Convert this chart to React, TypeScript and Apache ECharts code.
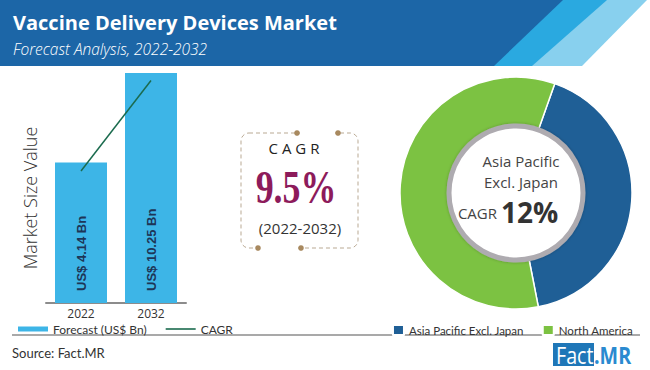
import React, { useEffect, useRef } from "react";
import * as echarts from "echarts";

// ---------- data ----------
const title = "Vaccine Delivery Devices Market";
const subtitle = "Forecast Analysis, 2022-2032";
const years = ["2022", "2032"];
const marketSize = [4.14, 10.25]; // US$ Bn
const cagrTrend = [3.8, 9.5];
const barSeriesName = "Forecast (US$ Bn)";
const lineSeriesName = "CAGR";
const yAxisName = "Market Size Value";
const cagrHeading = "C A G R";
const cagrValue = "9.5%";
const cagrPeriod = "(2022-2032)";
const regions = ["Asia Pacific Excl. Japan", "North America"];
const regionShare = [41.5, 58.5];
const centerLines = ["Asia Pacific", "Excl. Japan"];
const centerCagrLabel = "CAGR";
const centerCagrValue = "12%";
const sourceText = "Source: Fact.MR";

// ---------- styles ----------
const regionColors = ["#1f5f96", "#7cc242"];
const barColor = "#3db5e7";
const lineColor = "#1b6b4e";
const FONT = "Lato";

export default function App() {
  const ref = useRef<HTMLDivElement>(null);

  useEffect(() => {
    if (!ref.current) return;
    const chart = echarts.init(ref.current, undefined, { renderer: "svg" });
    const cx = 516;
    const cy = 193;

    const option: any = {
      animation: false,
      backgroundColor: "#ffffff",
      textStyle: { fontFamily: FONT },
      grid: { left: 46, top: 73, width: 140, bottom: 67 },
      xAxis: {
        type: "category",
        data: years,
        axisLine: { lineStyle: { color: "#8c8c8c", width: 2 } },
        axisTick: { show: false },
        axisLabel: { color: "#333", fontSize: 12, margin: 4, fontFamily: "Open Sans" },
      },
      yAxis: {
        type: "log",
        logBase: 10,
        min: 1,
        max: 10.25,
        axisLine: { show: false },
        axisTick: { show: false },
        axisLabel: { show: false },
        splitLine: { show: false },
      },
      legend: [
        {
          left: 13,
          top: 318,
          itemWidth: 30,
          itemHeight: 5,
          itemGap: 19,
          data: [
            { name: barSeriesName, icon: "rect" },
            { name: lineSeriesName, icon: "path://M0,0H30V1.6H0Z" },
          ],
          textStyle: { fontSize: 12, color: "#333", fontFamily: FONT },
        },
        {
          right: 12,
          top: 319,
          itemWidth: 11,
          itemHeight: 10,
          itemGap: 18,
          icon: "rect",
          data: regions,
          textStyle: { fontSize: 11.5, color: "#333", fontFamily: FONT },
        },
      ],
      series: [
        {
          type: "bar",
          name: barSeriesName,
          data: marketSize,
          barWidth: 52,
          itemStyle: { color: barColor },
          label: {
            show: true,
            position: "insideBottom",
            rotate: 90,
            align: "left",
            verticalAlign: "middle",
            distance: 12,
            formatter: (p: any) => `US$ ${p.value} Bn`,
            fontWeight: "bold",
            fontSize: 13,
            color: "#1d3557",
            fontFamily: "Liberation Sans",
          },
        },
        {
          type: "line",
          name: lineSeriesName,
          data: cagrTrend,
          symbol: "none",
          lineStyle: { color: lineColor, width: 1.5 },
          itemStyle: { color: lineColor },
        },
        {
          type: "pie",
          name: "Regions",
          center: [cx, cy],
          radius: [68, 116],
          startAngle: 70.5,
          clockwise: true,
          label: { show: false },
          labelLine: { show: false },
          emphasis: { disabled: true },
          itemStyle: { borderColor: "#ffffff", borderWidth: 1.5 },
          data: regions.map((r, i) => ({
            name: r,
            value: regionShare[i],
            itemStyle: { color: regionColors[i] },
          })),
        },
      ],
      graphic: [
        // header stripes
        { type: "polygon", z: 0, shape: { points: [[0, 0], [647, 0], [582, 66], [0, 66]] }, style: { fill: "#88d0ee" } },
        { type: "polygon", z: 0, shape: { points: [[0, 0], [607, 0], [532, 66], [0, 66]] }, style: { fill: "#2aa9e0" } },
        { type: "polygon", z: 0, shape: { points: [[0, 0], [563, 0], [494, 66], [0, 66]] }, style: { fill: "#1c66a7" } },
        {
          type: "text", z: 1, x: 13, y: 22,
          style: { text: title, fill: "#ffffff", font: `bold 20px 'Open Sans'`, verticalAlign: "middle" },
        },
        {
          type: "text", z: 1, x: 13, y: 49,
          style: { text: subtitle, fill: "#ffffff", font: `italic 300 15.5px 'Open Sans'`, verticalAlign: "middle" },
        },
        // y axis title
        {
          type: "text", z: 1, x: 30, y: 198, rotation: Math.PI / 2,
          style: { text: yAxisName, fill: "#333", font: `300 18px 'Open Sans'`, align: "center", verticalAlign: "middle" },
        },
        // CAGR box
        {
          type: "rect", z: 1,
          shape: { x: 241, y: 133, width: 117, height: 115, r: 8 },
          style: { fill: "#ffffff", stroke: "#b9a993", lineWidth: 1, lineDash: [4, 3] },
        },
        { type: "rect", z: 2, shape: { x: 300, y: 131, width: 35, height: 4 }, style: { fill: "#ffffff" } },
        { type: "rect", z: 2, shape: { x: 261, y: 246, width: 37, height: 4 }, style: { fill: "#ffffff" } },
        { type: "circle", z: 3, shape: { cx: 297, cy: 133, r: 2.8 }, style: { fill: "#a8895f" } },
        { type: "circle", z: 3, shape: { cx: 338, cy: 133, r: 2.8 }, style: { fill: "#a8895f" } },
        { type: "circle", z: 3, shape: { cx: 258, cy: 248, r: 2.8 }, style: { fill: "#a8895f" } },
        { type: "circle", z: 3, shape: { cx: 301, cy: 248, r: 2.8 }, style: { fill: "#a8895f" } },
        {
          type: "text", z: 3, x: 294, y: 148,
          style: { text: cagrHeading, fill: "#222", font: `15px 'Open Sans'`, align: "center", verticalAlign: "middle" },
        },
        {
          type: "text", z: 3, x: 296, y: 187, scaleX: 0.78,
          style: { text: cagrValue, fill: "#8d1b5b", font: `bold 46px 'Liberation Serif'`, align: "center", verticalAlign: "middle" },
        },
        {
          type: "text", z: 3, x: 300, y: 228,
          style: { text: cagrPeriod, fill: "#333", font: `15px 'Open Sans'`, align: "center", verticalAlign: "middle" },
        },
        // donut centre
        {
          type: "circle", z: 10,
          shape: { cx: cx, cy: cy, r: 67 },
          style: { fill: "#ffffff", stroke: "#aeabb0", lineWidth: 5, shadowBlur: 3, shadowColor: "rgba(0,0,0,0.25)" },
        },
        {
          type: "text", z: 11, x: cx + 5, y: 161,
          style: { text: centerLines[0], fill: "#444", font: `15px 'Open Sans'`, align: "center", verticalAlign: "middle" },
        },
        {
          type: "text", z: 11, x: cx + 5, y: 182,
          style: { text: centerLines[1], fill: "#444", font: `15px 'Open Sans'`, align: "center", verticalAlign: "middle" },
        },
        {
          type: "text", z: 11, x: 497, y: 213,
          style: { text: centerCagrLabel, fill: "#444", font: `15px 'Open Sans'`, align: "right", verticalAlign: "middle" },
        },
        {
          type: "text", z: 11, x: 501, y: 212,
          style: { text: centerCagrValue, fill: "#333", font: `bold 28px 'Open Sans'`, align: "left", verticalAlign: "middle" },
        },
        // footer
        {
          type: "line", z: 1,
          shape: { x1: 12, y1: 335, x2: 640, y2: 335 },
          style: { stroke: "#a9a9a9", lineWidth: 2 },
        },
        {
          type: "text", z: 1, x: 12, y: 353,
          style: { text: sourceText, fill: "#333", font: `13px ${FONT}`, verticalAlign: "middle" },
        },
        { type: "rect", z: 1, shape: { x: 553, y: 343, width: 41, height: 23 }, style: { fill: "#1f77b8" } },
        {
          type: "text", z: 2, x: 556, y: 355, scaleX: 0.82,
          style: { text: "Fact", fill: "#ffffff", font: `24px 'Open Sans'`, verticalAlign: "middle" },
        },
        {
          type: "text", z: 2, x: 594, y: 355, scaleX: 0.82,
          style: { text: ".MR", fill: "#2a8ad0", font: `bold 24px 'Open Sans'`, verticalAlign: "middle" },
        },
      ],
    };

    chart.setOption(option);
    return () => chart.dispose();
  }, []);

  return (
    <div
      ref={ref}
      style={{ position: "fixed", left: 0, top: 0, width: 650, height: 370 }}
    />
  );
}
